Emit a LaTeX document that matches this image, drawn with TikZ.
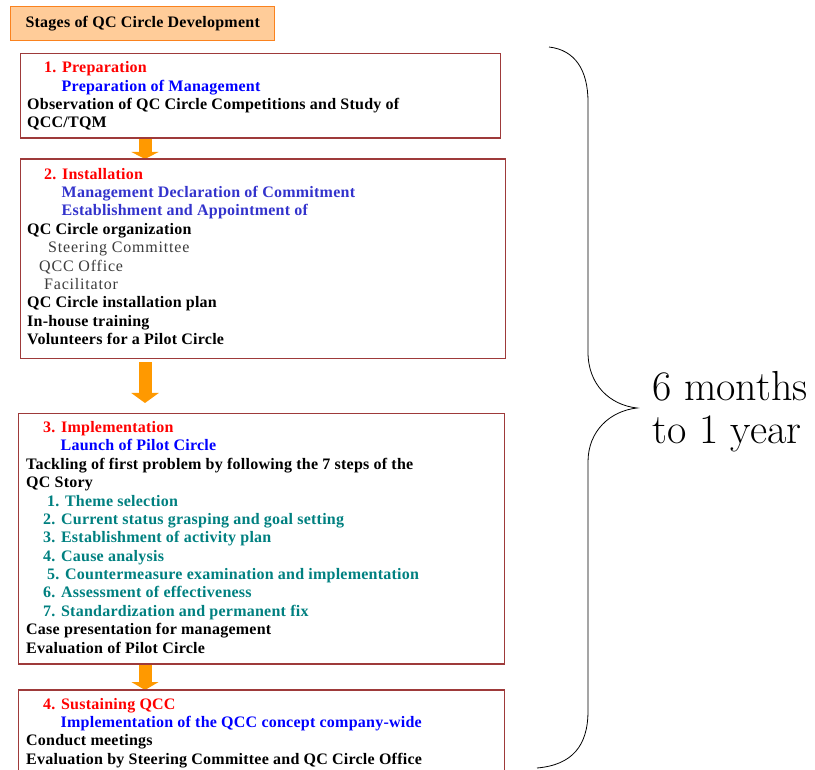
\documentclass[tikz,border=0pt]{standalone}
\usepackage{fontspec}
\usetikzlibrary{arrows.meta}

% Fonts: bold serif for the stage boxes, spaced regular serif for the office names
\newfontfamily\qcfont{Liberation Serif}[LetterSpace=1.5]
\newfontfamily\grayfont{Liberation Serif}[LetterSpace=5]

\definecolor{boxred}{RGB}{158,58,58}
\definecolor{titlefill}{RGB}{255,204,153}
\definecolor{titleedge}{RGB}{250,130,30}
\definecolor{floworange}{RGB}{255,153,0}
\definecolor{headred}{RGB}{255,0,0}
\definecolor{headblue}{RGB}{0,0,255}
\definecolor{softblue}{RGB}{51,51,204}
\definecolor{stepteal}{RGB}{0,128,128}
\definecolor{subgray}{RGB}{60,60,60}

\tikzset{
  stagebox/.style={draw=boxred, line width=1.2pt, anchor=north west, inner sep=0pt},
  titlebox/.style={draw=titleedge, fill=titlefill, line width=1.4pt, anchor=north west,
                   inner sep=0pt, font=\qcfont\bfseries\fontsize{16}{18}\selectfont},
  stagetext/.style={anchor=north west, inner sep=0pt, align=left,
                    font=\qcfont\bfseries\fontsize{16}{18.38}\selectfont},
  flowarrow/.style={draw=floworange, line width=13pt},
  spanlabel/.style={anchor=base west, inner sep=0pt, font=\fontsize{42}{46}\selectfont},
}

\newcommand{\firstline}{\rule{0pt}{14pt}}
\newcommand{\stagehead}[1]{\hspace*{17pt}\textcolor{headred}{#1}}
\newcommand{\stagesub}[2]{\hspace*{34.5pt}\textcolor{#1}{#2}}
\newcommand{\officename}[2]{\hspace*{#1}{\grayfont\mdseries\color{subgray}#2}}
\newcommand{\storystep}[2]{\hspace*{#1}\textcolor{stepteal}{#2}}

\begin{document}
\begin{tikzpicture}[x=1pt,y=-1pt]
\useasboundingbox (0,0) rectangle (815,770);
\clip (0,0) rectangle (815,770);

% title
\node[titlebox, minimum width=264pt, minimum height=34pt] (title) at (10,6)
  {Stages of QC Circle Development};

% stage frames
\coordinate (f1) at (20,53);
\coordinate (f2) at (20,159);
\coordinate (f3) at (18,413);
\coordinate (f4) at (18,690);
\node[stagebox, minimum width=480pt, minimum height=84pt]  (b1) at (f1) {};
\node[stagebox, minimum width=485pt, minimum height=199pt] (b2) at (f2) {};
\node[stagebox, minimum width=486pt, minimum height=250pt] (b3) at (f3) {};
\node[stagebox, minimum width=486pt, minimum height=130pt] (b4) at (f4) {};

% arrows between the stages
\draw[flowarrow, -{Triangle[width=27pt,length=7pt]}]
  ([xshift=125pt]b1.south west) -- ([xshift=125pt]b2.north west);
\draw[flowarrow, -{Triangle[width=27pt,length=10pt]}]
  ([xshift=125pt,yshift=-3pt]b2.south west) -- ([xshift=127pt,yshift=10pt]b3.north west);
\draw[flowarrow, -{Triangle[width=27pt,length=8pt]}]
  ([xshift=127pt]b3.south west) -- ([xshift=127pt]b4.north west);

% redraw frames over the arrow ends
\draw[draw=boxred, line width=1.2pt] (b1.south west) -- (b1.south east);
\draw[draw=boxred, line width=1.2pt] (b2.north west) -- (b2.north east);
\draw[draw=boxred, line width=1.2pt] (b3.south west) -- (b3.south east);
\draw[draw=boxred, line width=1.2pt] (b4.north west) -- (b4.north east);

% stage 1
\node[stagetext] (t1) at (27,58.5) {%
  \firstline\stagehead{1. Preparation}\\
  \stagesub{headblue}{Preparation of Management}\\
  Observation of QC Circle Competitions and Study of\\
  QCC/TQM};

% stage 2
\node[stagetext] (t2) at (27,165) {%
  \firstline\stagehead{2. Installation}\\
  \stagesub{softblue}{Management Declaration of Commitment}\\
  \stagesub{softblue}{Establishment and Appointment of}\\
  QC Circle organization\\
  \officename{21pt}{Steering Committee}\\
  \officename{12pt}{QCC Office}\\
  \officename{17pt}{Facilitator}\\
  QC Circle installation plan\\
  In-house training\\
  Volunteers for a Pilot Circle};

% stage 3
\node[stagetext] (t3) at (26,418.3) {%
  \firstline\stagehead{3. Implementation}\\
  \stagesub{headblue}{Launch of Pilot Circle}\\
  Tackling of first problem by following the 7 steps of the\\
  QC Story\\
  \storystep{21pt}{1. Theme selection}\\
  \storystep{17pt}{2. Current status grasping and goal setting}\\
  \storystep{17pt}{3. Establishment of activity plan}\\
  \storystep{17pt}{4. Cause analysis}\\
  \storystep{21pt}{5. Countermeasure examination and implementation}\\
  \storystep{17pt}{6. Assessment of effectiveness}\\
  \storystep{17pt}{7. Standardization and permanent fix}\\
  Case presentation for management\\
  Evaluation of Pilot Circle};

% stage 4
\node[stagetext] (t4) at (26,695) {%
  \firstline\stagehead{4. Sustaining QCC}\\
  \stagesub{headblue}{Implementation of the QCC concept company-wide}\\
  Conduct meetings\\
  Evaluation by Steering Committee and QC Circle Office};

% brace spanning all stages
\coordinate (bracetop) at (549,47);
\coordinate (bracetip) at (637,408);
\coordinate (bracebot) at (537,768);
\draw[line width=0.8pt]
  (bracetop) .. controls (575,50) and (588,70) .. (588,102)
  -- (588,352) .. controls (588,385) and (610,405) .. (bracetip)
  .. controls (610,411) and (588,431) .. (588,462)
  -- (588,711) .. controls (588,746) and (572,765) .. (bracebot);

\node[spanlabel] (span1) at (652,401) {6 months};
\node[spanlabel] (span2) at (652,443) {to 1 year};
\end{tikzpicture}
\end{document}
